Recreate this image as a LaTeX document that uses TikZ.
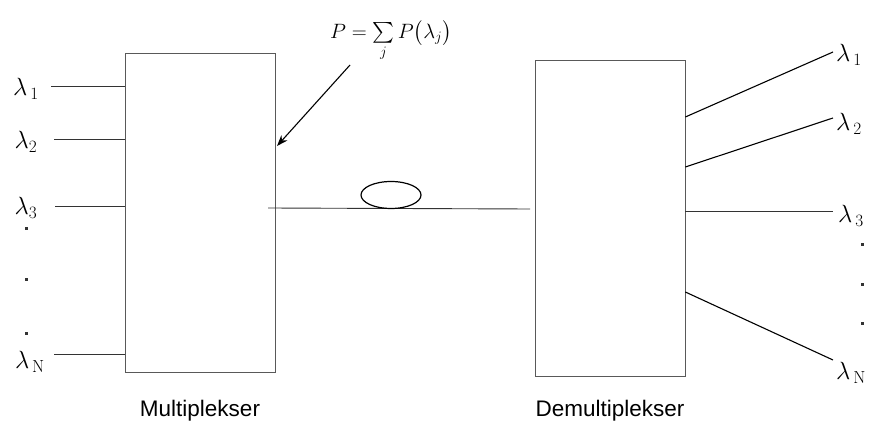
\documentclass[tikz,border=0pt]{standalone}
\usepackage{exscale}
\usepackage{fontspec}
\newfontfamily\labfont{Liberation Sans}
\usetikzlibrary{arrows.meta,shapes.geometric}
\begin{document}
\begin{tikzpicture}[x=1pt,y=-1pt,
  boxst/.style={draw=black!65, line width=0.7pt, rectangle, inner sep=0pt},
  wire/.style={draw=black!80, line width=0.9pt},
  fan/.style={draw=black, line width=1.1pt},
  lam/.style={font=\fontsize{25}{28}\selectfont, inner sep=0pt},
  dotst/.style={rectangle, fill=black!80, inner sep=0pt, minimum size=3pt},
  captext/.style={font=\labfont\fontsize{22.5}{26}\selectfont, inner sep=0pt}]
\useasboundingbox (0,0) rectangle (883,427);
\fill[white] (0,0) rectangle (883,427);

% boxes
\node[boxst, minimum width=150pt, minimum height=319pt] (mux) at (200,212.5) {};
\node[boxst, minimum width=150pt, minimum height=316pt] (demux) at (610,218) {};

% input labels
\node[lam] (l1) at (26,89) {$\lambda_{\,1}$};
\node[lam] (l2) at (26,142) {$\lambda_{2}$};
\node[lam] (l3) at (26,208) {$\lambda_{3}$};
\node[lam] (lN) at (30,362) {$\lambda_{\,\mathrm{N}}$};
\node[dotst] (d1) at (26,229) {};
\node[dotst] (d2) at (26,280) {};
\node[dotst] (d3) at (26,334) {};

% input wires
\coordinate (i1) at (51,86);
\coordinate (i2) at (54,139);
\coordinate (i3) at (55,206);
\coordinate (iN) at (54,354);
\draw[wire] (i1) -- (i1 -| mux.west);
\draw[wire] (i2) -- (i2 -| mux.west);
\draw[wire] (i3) -- (i3 -| mux.west);
\draw[wire] (iN) -- (iN -| mux.west);

% fibre
\coordinate (f0) at (268,208);
\coordinate (f1) at (530,209);
\draw[wire] (f0) -- (f1);
\node[draw=black, line width=1.2pt, ellipse, minimum width=60pt, minimum height=27pt, inner sep=0pt] (coil) at (391,195) {};

% formula and arrow
\node[font=\fontsize{21}{24}\selectfont, inner sep=0pt] (form) at (391,41) {$P=\sum\limits_{j} P\bigl(\lambda_j\bigr)$};
\coordinate (a0) at (350,65);
\coordinate (a1) at (277,146);
\draw[fan, -{Stealth[length=11pt,width=8pt]}] (a0) -- (a1);

% output wires
\coordinate (o1) at (833,52);
\coordinate (o2) at (833,118);
\coordinate (o3) at (833,211);
\coordinate (oN) at (833,360);
\draw[fan] (demux.east |- 0,117) -- (o1);
\draw[fan] (demux.east |- 0,167) -- (o2);
\draw[wire] (demux.east |- 0,211) -- (o3);
\draw[fan] (demux.east |- 0,292) -- (oN);

% output labels
\node[lam, anchor=west] (r1) at (836,55) {$\lambda_{\,1}$};
\node[lam, anchor=west] (r2) at (836,124) {$\lambda_{\,2}$};
\node[lam, anchor=west] (r3) at (838,216) {$\lambda_{\,3}$};
\node[lam, anchor=west] (rN) at (836,373) {$\lambda_{\,\mathrm{N}}$};
\node[dotst] (e1) at (862,245) {};
\node[dotst] (e2) at (862,285) {};
\node[dotst] (e3) at (862,324) {};

% captions
\node[captext] (cm) at (200,411) {Multiplekser};
\node[captext] (cd) at (610,411) {Demultiplekser};
\end{tikzpicture}
\end{document}
